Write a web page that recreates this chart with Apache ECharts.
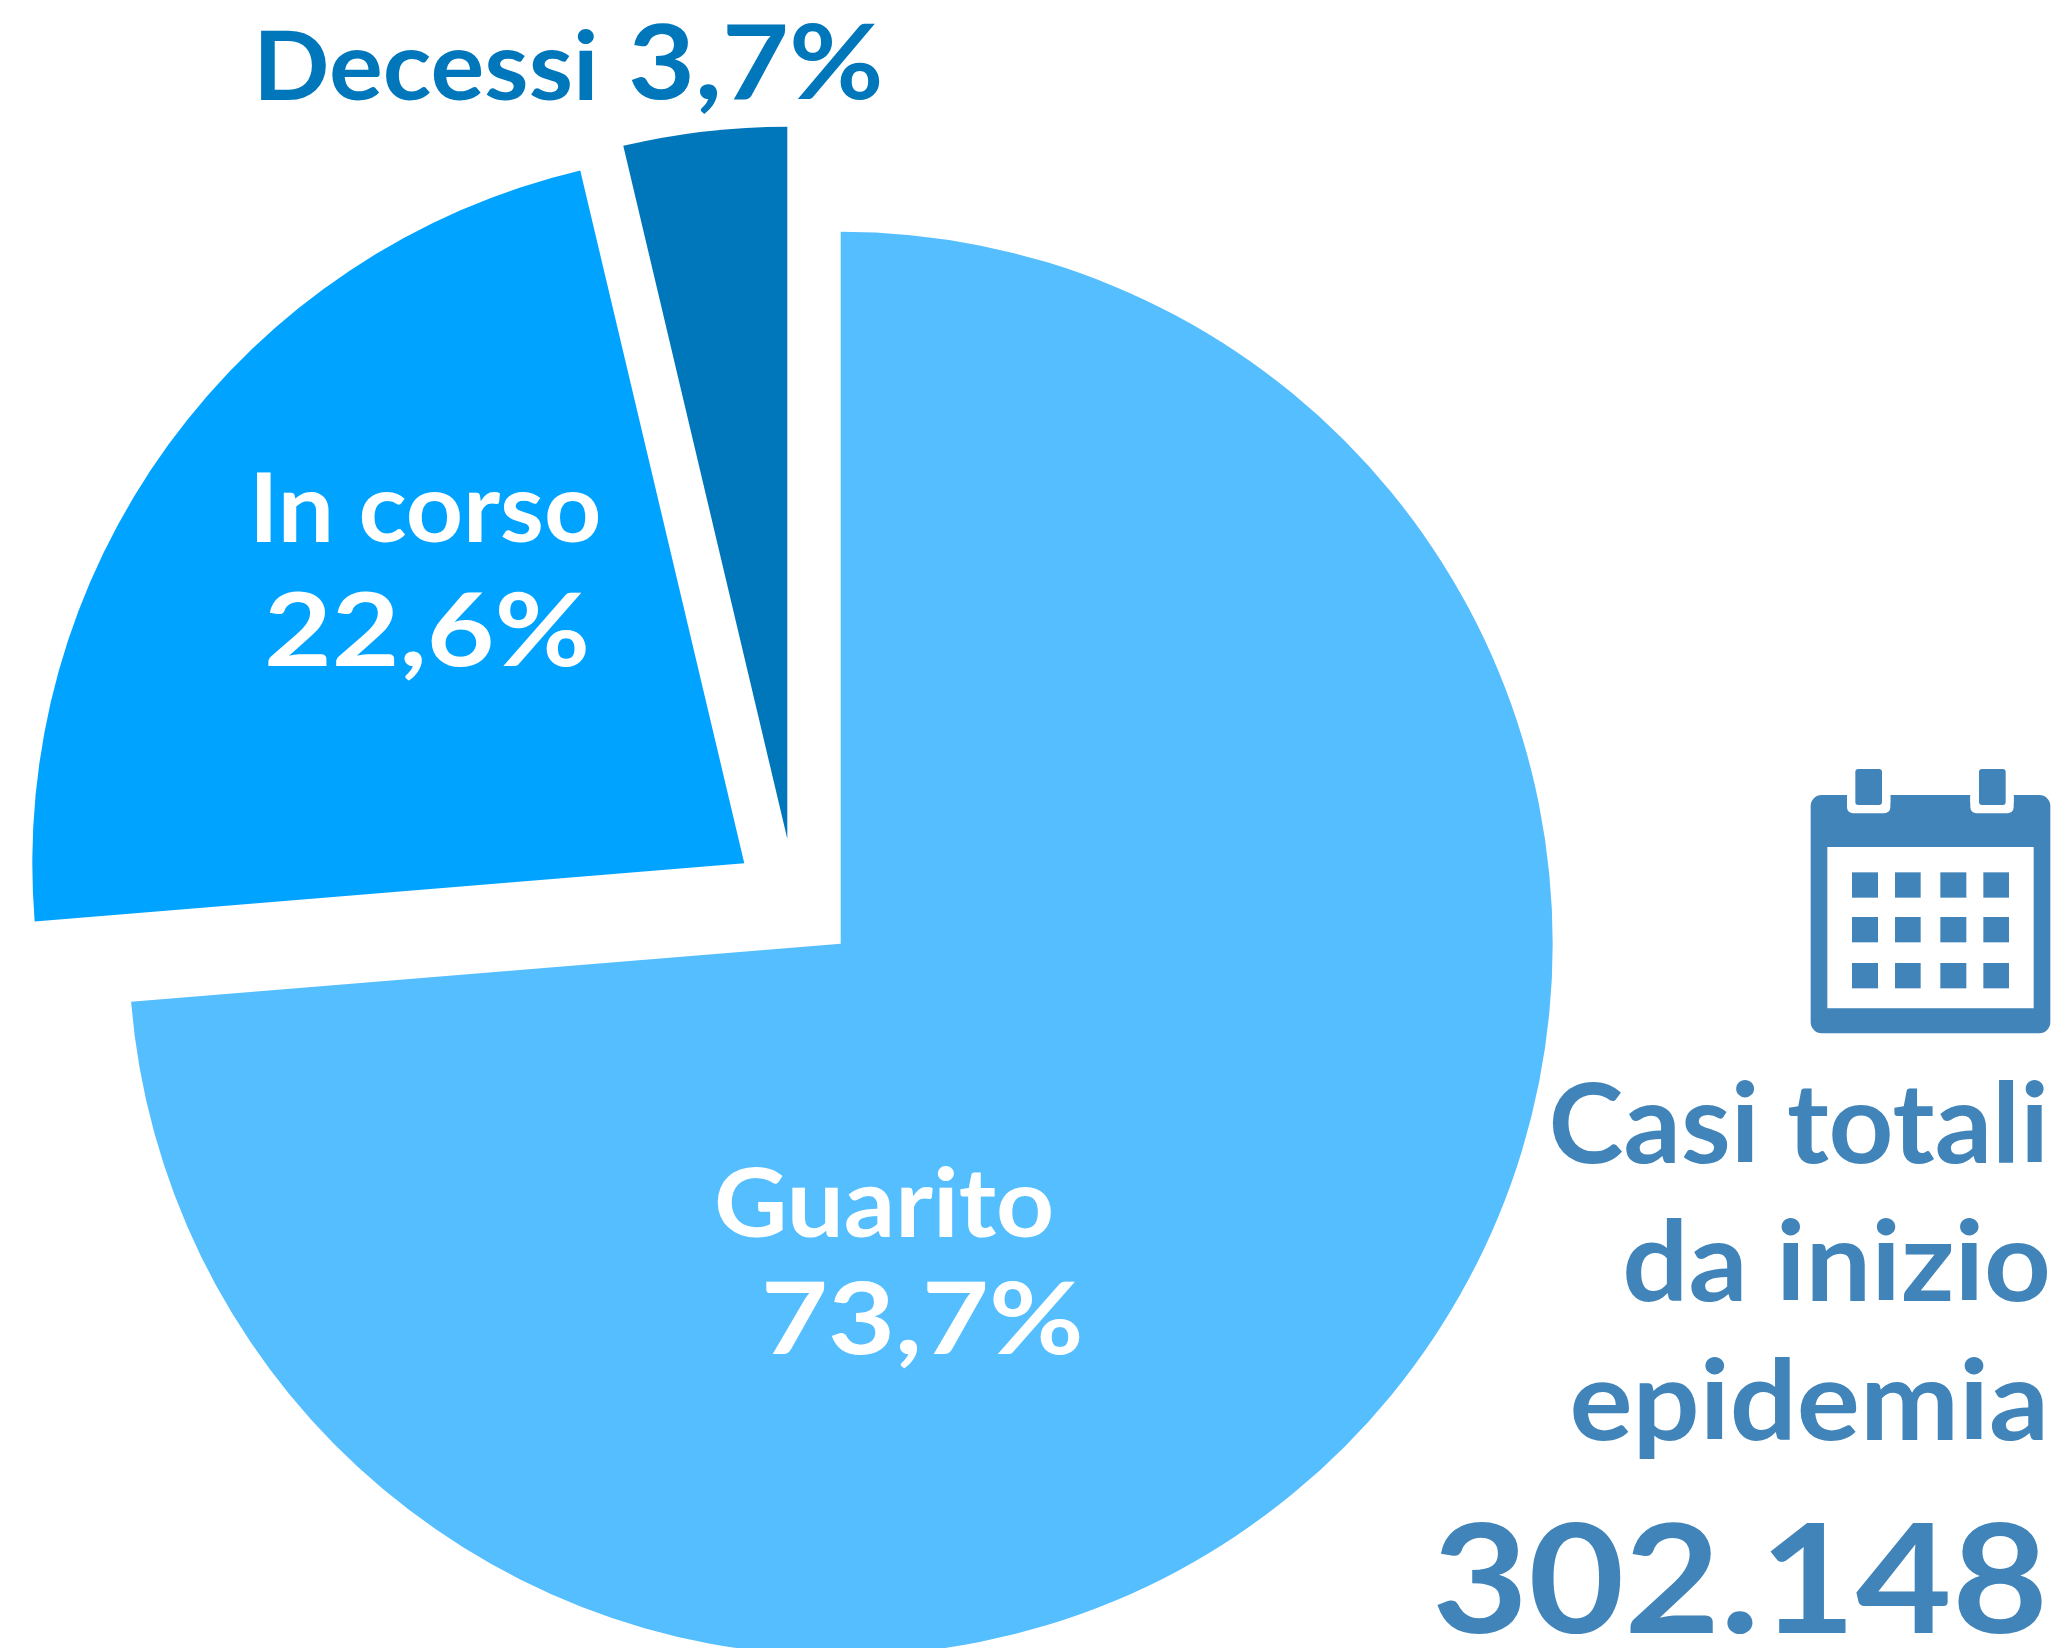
<!DOCTYPE html>
<html><head><meta charset="utf-8">
<style>html,body{margin:0;padding:0;background:#fff;overflow:hidden}#c{width:2065px;height:1648px}</style>
<script src="https://cdn.jsdelivr.net/npm/echarts@6/dist/echarts.min.js"></script>
</head><body><div id="c"></div>
<script>
const names = ['Guarito', 'In corso', 'Decessi'];
const values = [73.7, 22.6, 3.7];
const colors = ['#55BEFF', '#00A3FF', '#0076BB'];
const centers = [[840.7, 943.7], [744.3, 863.3], [787.3, 838.7]];
const totalLines = ['Casi totali', 'da inizio', 'epidemia'];
const totalValue = '302.148';
const RADIUS = 712;
const FONT = 'Lato';
const INK = '#4184B9';

const pct = v => v.toFixed(1).replace('.', ',') + '%';
const hidden = 'rgba(0,0,0,0)';
const series = names.map((nm, s) => ({
  type: 'pie', silent: true, animation: false, startAngle: 90, clockwise: true,
  center: centers[s], radius: [0, RADIUS], avoidLabelOverlap: false,
  label: {show: false}, labelLine: {show: false}, emphasis: {disabled: true},
  data: names.map((n, i) => ({name: n, value: values[i],
    itemStyle: {color: i === s ? colors[i] : hidden, borderWidth: 0}}))
}));

function txt(text, x, y, size, fill, align, sx) {
  return {type: 'text', silent: true, z: 100, x, y, scaleX: sx || 1, originX: 0, originY: 0,
    style: {text, x: 0, y: 0, fill, textAlign: align || 'left', verticalAlign: 'bottom',
      font: `700 ${size}px ${FONT}`}};
}
const calX = 1780, calY = 750, u = 1 / 3;
function cr(x0, y0, x1, y1, fill, r) {
  return {type: 'rect', silent: true, z: 100,
    shape: {x: calX + x0 * u, y: calY + y0 * u, width: (x1 - x0) * u, height: (y1 - y0) * u, r: r || 0},
    style: {fill}};
}
const calCols = [[216, 294], [345, 422], [481, 559], [610, 687]];
const calRows = [[367, 443], [501, 577], [639, 715]];
const cal = [
  cr(92, 135, 811, 850, INK, 11),
  cr(201, 120, 331, 190, '#fff', 6), cr(571, 120, 701, 190, '#fff', 6),
  cr(201, 120, 331, 160, '#fff', 0), cr(571, 120, 701, 160, '#fff', 0),
  cr(226, 57, 306, 165, INK, 3), cr(597, 57, 677, 165, INK, 3),
  cr(142, 291, 761, 775, '#fff', 0)
];
calRows.forEach(r => calCols.forEach(c => cal.push(cr(c[0], r[0], c[1], r[1], INK))));

const texts = [
  txt(names[2], 253, 117, 96, colors[2], 'left', 1.05),
  txt(pct(values[2]), 628, 117, 104, colors[2], 'left', 1.11),
  txt(names[1], 249, 559, 96, '#fff', 'left', 1.04),
  txt(pct(values[1]), 264, 684, 102, '#fff', 'left', 1.145),
  txt(names[0], 714, 1254, 96, '#fff', 'left', 1.055),
  txt(pct(values[0]), 761, 1372, 100, '#fff', 'left', 1.155),
  txt(totalLines[0], 2049, 1183, 111, INK, 'right', 1.02),
  txt(totalLines[1], 2051, 1321, 111, INK, 'right', 1.05),
  txt(totalLines[2], 2049, 1460, 111, INK, 'right', 1.065),
  txt(totalValue, 2048, 1660, 152, INK, 'right', 1.09)
];

const chart = echarts.init(document.getElementById('c'), null, {renderer: 'canvas'});
chart.setOption({animation: false, backgroundColor: '#fff', series,
  graphic: {elements: [...cal, ...texts]}});
</script></body></html>
